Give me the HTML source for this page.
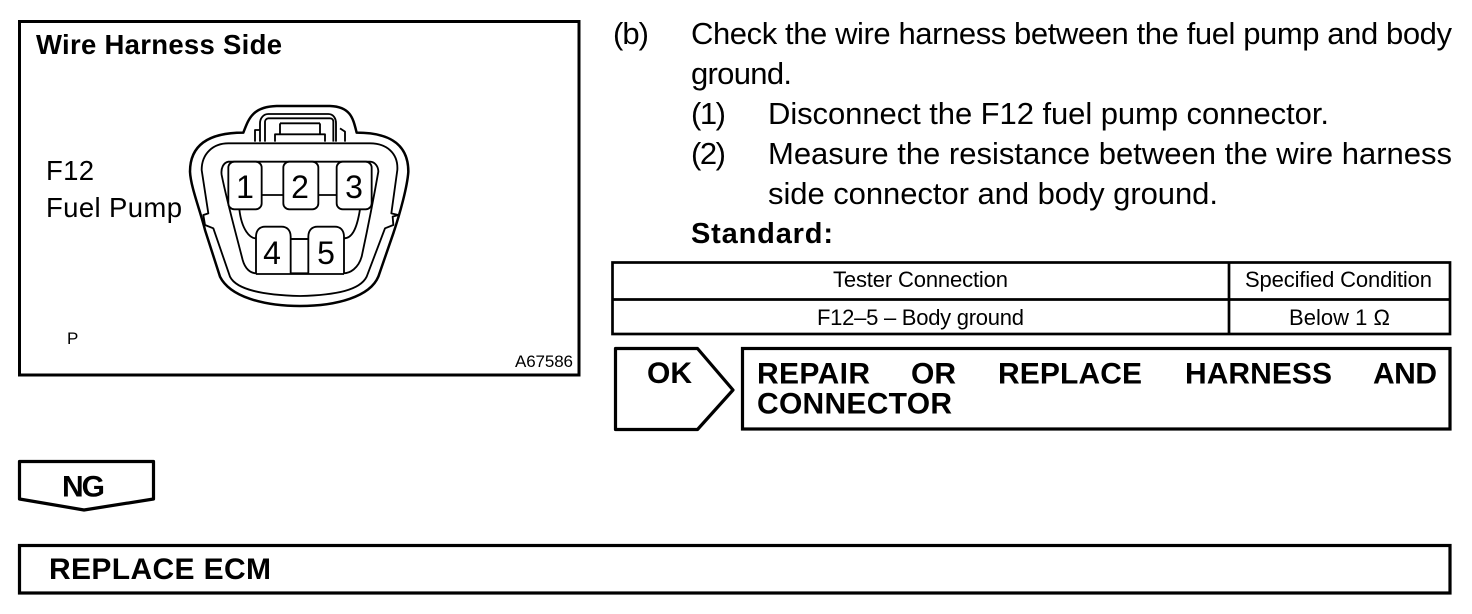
<!DOCTYPE html>
<html><head><meta charset="utf-8"><style>
html,body{margin:0;padding:0;background:#fff;width:1472px;height:614px;overflow:hidden}
svg{display:block}
text{font-family:"Liberation Sans",sans-serif;fill:#000}
.b{font-size:31px}
.t{font-size:22px}
.h{font-size:30px;font-weight:bold}
.n{font-size:32px}
</style></head><body>
<svg width="1472" height="614" viewBox="0 0 1472 614">
<g fill="none" stroke="#000" stroke-width="3">
<rect x="19.5" y="21.5" width="559.5" height="353.5"/>
<rect x="612.5" y="262.5" width="837.5" height="71.5" stroke-width="2.7"/>
<path d="M612 299.5H1450M1229 262V334" stroke-width="2.7"/>
<path d="M615.5 348.5H697.5L733 390L697.5 429.5H615.5Z" stroke-width="3.2" stroke-linejoin="round"/>
<rect x="742.5" y="348.5" width="707.5" height="80.5" stroke-width="3.2"/>
<path d="M19.5 461.5H153.5V499L84 510L19.5 499Z" stroke-width="3.2" stroke-linejoin="round"/>
<rect x="19.5" y="545.5" width="1430.5" height="47.5" stroke-width="3.2"/>
</g>
<g transform="translate(170,90) scale(.33333)" fill="none" stroke="#000" stroke-width="5.5" stroke-linejoin="round">
<path stroke-width="7.5" d="M220 128C235 90 245 50 320 48L480 48C545 50 550 90 560 128C640 128 715 150 715 245C712 290 690 370 670 430L625 560C600 620 500 648 390 648C280 648 180 620 150 560L105 420C90 360 62 290 60 245C60 150 140 128 220 128Z"/>
<path d="M175 160L600 160C650 160 685 190 682 240L664 370L685 375L668 380L670 405L645 415L590 560C570 600 500 615 390 618C280 615 200 600 180 560L130 415L105 405L100 375L115 370L95 240C95 190 130 160 175 160Z"/>
<path d="M175 215H600C615 215 625 230 625 245C610 330 590 430 575 500C565 535 540 550 520 550H260C240 550 225 535 218 510C195 420 170 330 155 255C152 235 160 218 175 215Z"/>
<rect x="175" y="215" width="100" height="143" rx="18" fill="#fff"/>
<rect x="340" y="215" width="105" height="143" rx="18" fill="#fff"/>
<rect x="500" y="215" width="105" height="143" rx="18" fill="#fff"/>
<path d="M275 315H340M445 315H500M362 447H415M208 358C215 420 240 445 258 445M570 358C560 420 545 445 522 445"/>
<path d="M258 552V440C258 420 270 410 285 410H335C350 410 362 420 362 440V552M415 552V440C415 420 427 410 442 410H495C510 410 522 420 522 440V552" fill="#fff"/>
<path d="M362 447H415M258 552H522"/>
<path d="M270 155V100C270 85 280 72 295 72H475C490 72 498 85 498 100V155M285 155V95C285 90 290 85 295 85H480C487 85 490 90 490 95V155M330 100H450M330 100V133M450 100V133M315 155V133H465V155M255 155V120H268M525 155V125L510 115"/>
</g>
<text x="36" y="54" style="font-size:27.5px;font-weight:bold" textLength="246">Wire Harness Side</text>
<text x="46" y="180" style="font-size:27.5px" textLength="48">F12</text>
<text x="46" y="217" style="font-size:27.5px" textLength="136">Fuel Pump</text>
<text x="67" y="344" style="font-size:17px">P</text>
<text x="515" y="367" style="font-size:17px" textLength="58">A67586</text>
<text class="n" x="245" y="198" text-anchor="middle">1</text>
<text class="n" x="300" y="198" text-anchor="middle">2</text>
<text class="n" x="354" y="198" text-anchor="middle">3</text>
<text class="n" x="272" y="264" text-anchor="middle">4</text>
<text class="n" x="326" y="264" text-anchor="middle">5</text>
<text class="b" x="613" y="44" textLength="36">(b)</text>
<text class="b" x="691" y="44" textLength="761">Check the wire harness between the fuel pump and body</text>
<text class="b" x="691" y="84" textLength="101">ground.</text>
<text class="b" x="691" y="124" textLength="35">(1)</text>
<text class="b" x="768" y="124" textLength="561">Disconnect the F12 fuel pump connector.</text>
<text class="b" x="691" y="164" textLength="35">(2)</text>
<text class="b" x="768" y="164" textLength="684">Measure the resistance between the wire harness</text>
<text class="b" x="768" y="204" textLength="450">side connector and body ground.</text>
<text x="691" y="243" style="font-size:29px;font-weight:bold" textLength="142">Standard:</text>
<text class="t" x="833" y="287" textLength="175">Tester Connection</text>
<text class="t" x="1245" y="287" textLength="187">Specified Condition</text>
<text class="t" x="817" y="325" textLength="207">F12–5 – Body ground</text>
<text class="t" x="1289" y="325" textLength="101">Below 1 Ω</text>
<text class="h" x="647" y="383" textLength="45">OK</text>
<text class="h" x="757" y="383.5" textLength="113">REPAIR</text>
<text class="h" x="911" y="383.5" textLength="45">OR</text>
<text class="h" x="998" y="383.5" textLength="144">REPLACE</text>
<text class="h" x="1185" y="383.5" textLength="147">HARNESS</text>
<text class="h" x="1373" y="383.5" textLength="64">AND</text>
<text class="h" x="757" y="413.5" textLength="195">CONNECTOR</text>
<text class="h" x="62" y="496.5" textLength="43">NG</text>
<text class="h" x="49" y="579" textLength="222">REPLACE ECM</text>
</svg>
</body></html>
